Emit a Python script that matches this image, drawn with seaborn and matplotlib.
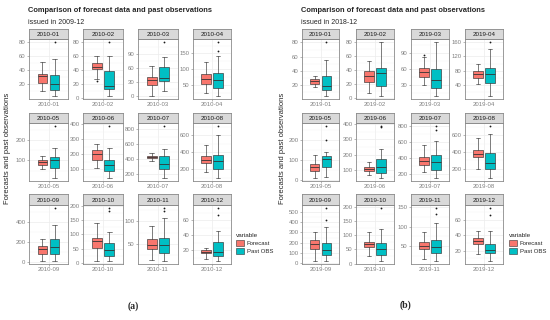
import numpy as np
import matplotlib
matplotlib.use("Agg")
import matplotlib.pyplot as plt
from matplotlib.patches import Patch
import seaborn as sns

# ---- data: box stats [whisker_lo, q1, median, q3, whisker_hi] ----
months_a = ["2010-01", "2010-02", "2010-03", "2010-04", "2010-05", "2010-06",
            "2010-07", "2010-08", "2010-09", "2010-10", "2010-11", "2010-12"]
forecast_a = [[10, 22, 31, 35, 52], [27, 42, 45, 50, 61], [0, 25, 34, 41, 64], [25, 54, 70, 84, 124],
              [56, 79, 92, 100, 124], [108, 164, 201, 227, 266], [380, 415, 430, 445, 475], [162, 277, 312, 354, 488],
              [7, 75, 125, 157, 230], [5, 53, 75, 87, 141], [14, 39, 48, 62, 89], [8, 16, 18, 20, 23.5]]
pastobs_a = [[3, 12, 20, 33, 55], [3, 13, 17, 39, 61], [11, 32, 38, 62, 84], [15, 41, 65, 87, 143],
             [11, 63, 100, 116, 161], [39, 89, 125, 164, 238], [140, 265, 330, 435, 530], [92, 208, 292, 369, 610],
             [10, 75, 148, 230, 370], [6, 24, 44, 69, 108], [12, 30, 48, 64, 107], [5.5, 12, 18, 31, 46]]
fliers_fc_a = [[], [25], [], [], [], [], [], [], [], [], [], []]
fliers_obs_a = [[80], [81], [116], [158, 187], [273], [389], [850], [715], [541], [184, 194], [123, 130], [67, 77]]
yticks_a = [[20, 40, 60, 80], [0, 20, 40, 60, 80], [0, 30, 60, 90], [50, 100, 150],
            [100, 200], [100, 200, 300, 400], [200, 400, 600, 800], [200, 400, 600],
            [0, 200, 400], [0, 50, 100, 150, 200], [50, 100], [20, 40, 60]]

months_b = ["2019-01", "2019-02", "2019-03", "2019-04", "2019-05", "2019-06",
            "2019-07", "2019-08", "2019-09", "2019-10", "2019-11", "2019-12"]
forecast_b = [[17, 21, 25, 28, 33], [8, 24, 32, 39, 53], [30, 46, 54, 62, 84], [44, 61, 70, 79, 100],
              [8, 44, 63, 79, 124], [62, 94, 104, 117, 149], [216, 310, 360, 412, 563], [200, 342, 381, 419, 562],
              [20, 141, 190, 225, 305], [25, 58, 69, 77, 110], [19, 44, 52, 61, 86], [15, 28, 32, 36, 45]]
pastobs_b = [[4, 13, 19, 33, 55], [3, 17, 36, 44, 81], [9, 25, 39, 60, 112], [9, 47, 70, 87, 142],
             [15, 63, 103, 119, 140], [43, 79, 121, 168, 238], [139, 249, 345, 441, 616], [85, 200, 273, 388, 610],
             [20, 78, 125, 195, 350], [8, 29, 52, 73, 121], [12, 32, 48, 67, 109], [6, 17, 21, 29, 46]]
fliers_fc_b = [[], [], [87], [], [], [], [], [], [], [], [], []]
fliers_obs_b = [[81], [], [], [161], [202, 273], [383, 391], [747, 808], [715], [422, 538], [197], [132, 148], [66, 76]]
yticks_b = [[0, 20, 40, 60, 80], [0, 20, 40, 60, 80], [30, 60, 90], [40, 80, 120, 160],
            [0, 100, 200], [100, 200, 300, 400], [200, 400, 600, 800], [200, 400, 600],
            [0, 100, 200, 300, 400, 500], [0, 50, 100, 150, 200], [50, 100, 150], [20, 40, 60]]

series_names = ["Forecast", "Past OBS"]

sns.set_theme(style="white")
plt.rcParams["font.family"] = ["Liberation Sans", "DejaVu Sans"]
colors = sns.color_palette(["#F8766D", "#00BFC4"])

W, H = 550, 320
fig = plt.figure(figsize=(W / 100, H / 100), dpi=100)


def px_rect(l, t, r, b):
    return [l / W, 1 - b / H, (r - l) / W, (b - t) / H]


strip_top = [29, 113, 194]
strip_bot = [39, 123, 205]
panel_bot = [99, 181, 264]
edge = "#333333"
border = "#8a8a8a"


def draw_facet(col, row, month, fc, obs, fl_fc, fl_obs, ticks):
    l, r = col
    ax = fig.add_axes(px_rect(l, strip_bot[row], r, panel_bot[row]))
    sax = fig.add_axes(px_rect(l, strip_top[row], r, strip_bot[row]))
    stats = [dict(whislo=fc[0], q1=fc[1], med=fc[2], q3=fc[3], whishi=fc[4], fliers=fl_fc),
             dict(whislo=obs[0], q1=obs[1], med=obs[2], q3=obs[3], whishi=obs[4], fliers=fl_obs)]
    bp = ax.bxp(stats, positions=[0.8125, 1.1875], widths=0.3, capwidths=0.14,
                patch_artist=True, manage_ticks=False,
                boxprops=dict(edgecolor=edge, linewidth=0.45),
                medianprops=dict(color=edge, linewidth=0.6),
                whiskerprops=dict(color=edge, linewidth=0.45),
                capprops=dict(color=edge, linewidth=0.45),
                flierprops=dict(marker="o", markersize=1.3, markerfacecolor="#1a1a1a",
                                markeredgecolor="none"))
    for patch, c in zip(bp["boxes"], colors):
        patch.set_facecolor(c)
    vals = fc + obs + fl_fc + fl_obs
    lo, hi = min(vals), max(vals)
    pad = 0.05 * (hi - lo)
    ax.set_ylim(lo - pad, hi + pad)
    ax.set_xlim(0.4, 1.6)
    shown = [t for t in ticks if lo - pad <= t <= hi + pad]
    ax.set_yticks(shown)
    step = ticks[1] - ticks[0]
    minor = [t + step / 2 for t in [ticks[0] - step] + ticks]
    ax.set_yticks([m for m in minor if lo - pad <= m <= hi + pad], minor=True)
    ax.set_xticks([1])
    ax.set_xticklabels([month])
    ax.tick_params(axis="both", which="major", labelsize=4.3, labelcolor="#808080",
                   color="#808080", length=1.5, width=0.4, pad=1, left=True, bottom=True)
    ax.tick_params(axis="y", which="minor", length=0)
    ax.grid(True, which="major", color="#ececec", linewidth=0.5)
    ax.grid(True, which="minor", axis="y", color="#f4f4f4", linewidth=0.3)
    ax.set_axisbelow(True)
    ax.set_facecolor("white")
    for s in ax.spines.values():
        s.set_color(border)
        s.set_linewidth(0.6)
    sax.set_facecolor("#D9D9D9")
    sax.set_xticks([])
    sax.set_yticks([])
    for s in sax.spines.values():
        s.set_color(border)
        s.set_linewidth(0.6)
    sax.text(0.5, 0.45, month, ha="center", va="center", fontsize=4.5, color="#1a1a1a",
             transform=sax.transAxes)


def draw_panel(cols, x0, title, subtitle, months, fcs, obss, flfcs, flobss, ticks, leg_x):
    for i in range(12):
        draw_facet(cols[i % 4], i // 4, months[i], fcs[i], obss[i], flfcs[i], flobss[i], ticks[i])
    fig.text(x0 / W, 1 - 11 / H, title, fontsize=5.4, fontweight="bold", va="center", ha="left")
    fig.text(x0 / W, 1 - 22 / H, subtitle, fontsize=5.0, va="center", ha="left")
    handles = [Patch(facecolor=c, edgecolor=edge, linewidth=0.4) for c in colors]
    fig.legend(handles, series_names, title="variable", loc="upper left",
               bbox_to_anchor=(leg_x / W, 1 - 233 / H), frameon=False, alignment="left",
               fontsize=4.3, title_fontsize=4.6, handlelength=1.3, handleheight=1.1,
               handletextpad=0.5, labelspacing=0.35, borderpad=0, borderaxespad=0)


cols_a = [(29, 68), (83, 123), (138, 178), (193, 231)]
cols_b = [(302, 339), (356, 394), (411, 449), (465, 503)]

draw_panel(cols_a, 28, "Comparison of forecast data and past observations", "issued in 2009-12",
           months_a, forecast_a, pastobs_a, fliers_fc_a, fliers_obs_a, yticks_a, 236)
draw_panel(cols_b, 301, "Comparison of forecast data and past observations", "issued in 2018-12",
           months_b, forecast_b, pastobs_b, fliers_fc_b, fliers_obs_b, yticks_b, 509)

for x in [8, 283]:
    fig.text(x / W, 1 - 148 / H, "Forecasts and past observations", rotation=90,
             fontsize=5.5, va="center", ha="center")

fig.text(133 / W, 1 - 306 / H, "(a)", fontsize=7, fontweight="bold", ha="center", va="center",
         family=["Liberation Serif", "DejaVu Serif"])
fig.text(406 / W, 1 - 305 / H, "(b)", fontsize=7, fontweight="bold", ha="center", va="center",
         family=["Liberation Serif", "DejaVu Serif"])

fig.savefig("out.png", dpi=100)
